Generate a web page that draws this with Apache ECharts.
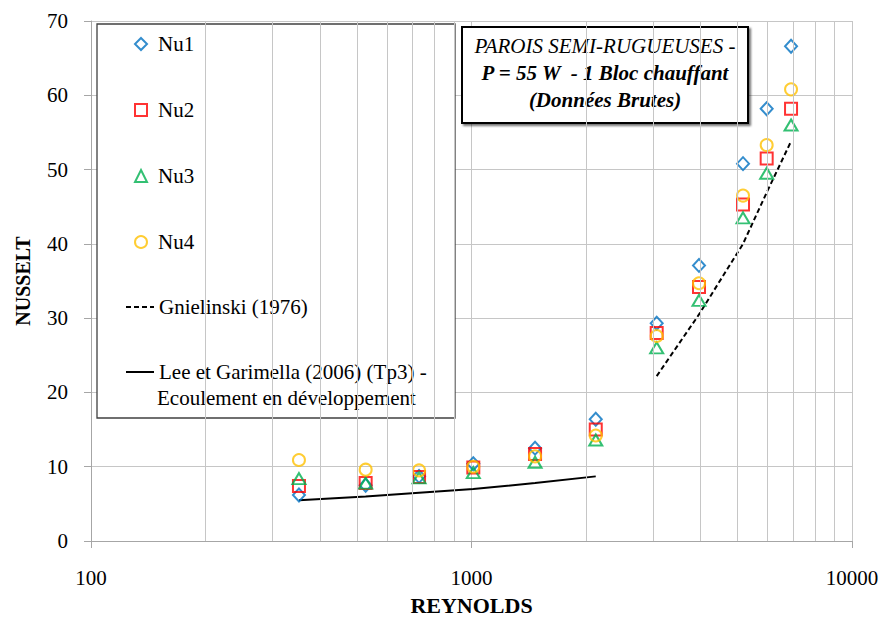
<!DOCTYPE html>
<html>
<head>
<meta charset="utf-8">
<script src="https://cdn.jsdelivr.net/npm/echarts@6/dist/echarts.min.js"></script>
<style>
  html, body { margin: 0; padding: 0; background: #fff; }
  #chart { width: 882px; height: 621px; }
</style>
</head>
<body>
<div id="chart"></div>
<script>
// Reynolds numbers of the measurement points
const reynolds = [352, 527, 728, 1011, 1469, 2121, 3067, 3962, 5171, 5967, 6915];

// Measured Nusselt numbers (raw data)
const nu1 = [6.2, 7.5, 8.7, 10.4, 12.5, 16.4, 29.3, 37.1, 50.8, 58.2, 66.6];
const nu2 = [7.4, 7.8, 8.6, 9.9, 11.7, 15.0, 28.0, 34.2, 45.3, 51.5, 58.2];
const nu3 = [8.4, 7.8, 8.5, 9.2, 10.6, 13.6, 26.0, 32.4, 43.5, 49.5, 56.0];
const nu4 = [10.9, 9.6, 9.5, 10.0, 11.4, 14.2, 27.6, 34.7, 46.5, 53.3, 60.8];

// Correlations
const gnielinskiRe = [3067, 3962, 5171, 5967, 6915];
const gnielinskiNu = [22.2, 30.5, 40.0, 46.9, 53.8];
const leeRe = [352, 527, 728, 1011, 1469, 2121];
const leeNu = [5.5, 6.0, 6.5, 7.0, 7.8, 8.7];

// Axis ranges and intermediate log grid lines
const xTicks = [100, 1000, 10000];
const yTicks = [0, 10, 20, 30, 40, 50, 60, 70];
const minorRe = [200, 300, 400, 500, 600, 700, 800, 900,
                 2000, 3000, 4000, 5000, 6000, 7000, 8000, 9000];

const GNIELINSKI = 'Gnielinski (1976)';
const LEE = 'Lee et Garimella (2006) (Tp3) -\nEcoulement en développement';

const FONT = "'Liberation Serif', 'Times New Roman', serif";
const GRID_COLOR = '#c6c6c6';
const AXIS_COLOR = '#a6a6a6';

const pair = (xs, ys) => xs.map((x, i) => [x, ys[i]]);
const hollow = (color) => ({ color: 'rgba(0,0,0,0)', borderColor: color, borderWidth: 2 });

const legendText = { fontFamily: FONT, fontSize: 21, color: '#000', lineHeight: 24 };

const chart = echarts.init(document.getElementById('chart'), null, { renderer: 'svg' });

chart.setOption({
  animation: false,
  backgroundColor: '#fff',
  textStyle: { fontFamily: FONT },
  grid: { left: 91, right: 30, top: 21, bottom: 76, containLabel: false },
  xAxis: {
    type: 'log',
    logBase: 10,
    min: xTicks[0],
    max: xTicks[xTicks.length - 1],
    name: 'REYNOLDS',
    nameLocation: 'middle',
    nameGap: 53,
    nameTextStyle: { fontFamily: FONT, fontSize: 22, fontWeight: 'bold', color: '#000' },
    axisLine: { show: true, lineStyle: { color: AXIS_COLOR, width: 1 } },
    axisTick: { show: true, inside: false, length: 7, lineStyle: { color: AXIS_COLOR } },
    axisLabel: {
      fontFamily: FONT, fontSize: 21, color: '#000', margin: 26,
      formatter: (v) => String(Math.round(v))
    },
    splitLine: { show: true, lineStyle: { color: GRID_COLOR, width: 1 } },
    minorTick: { show: false },
    minorSplitLine: { show: false }
  },
  yAxis: {
    type: 'value',
    min: yTicks[0],
    max: yTicks[yTicks.length - 1],
    interval: 10,
    name: 'NUSSELT',
    nameLocation: 'middle',
    nameGap: 58,
    nameRotate: 90,
    nameTextStyle: { fontFamily: FONT, fontSize: 20, fontWeight: 'bold', color: '#000' },
    axisLine: { show: true, lineStyle: { color: AXIS_COLOR, width: 1 } },
    axisTick: { show: true, inside: false, length: 7, lineStyle: { color: AXIS_COLOR } },
    axisLabel: { fontFamily: FONT, fontSize: 21, color: '#000', margin: 23 },
    splitLine: { show: true, lineStyle: { color: GRID_COLOR, width: 1 } }
  },
  legend: [
    {
      // measured series: square icon box so markers keep their shape
      orient: 'vertical',
      left: 134,
      top: 32,
      padding: 0,
      itemWidth: 12,
      itemHeight: 12,
      itemGap: 42,
      selectedMode: false,
      symbolKeepAspect: true,
      textStyle: Object.assign({ padding: [0, 0, 0, 6] }, legendText),
      data: ['Nu1', 'Nu2', 'Nu3', 'Nu4']
    },
    {
      // correlations: line icons, no marker
      orient: 'vertical',
      left: 125,
      top: 295,
      padding: 0,
      itemWidth: 28,
      itemHeight: 12,
      itemGap: 41,
      selectedMode: false,
      textStyle: legendText,
      formatter: (name) => name.split('\n')[0],
      data: [
        { name: GNIELINSKI, itemStyle: { opacity: 0 } },
        { name: LEE, itemStyle: { opacity: 0 } }
      ]
    }
  ],
  graphic: [
    // legend frame
    {
      type: 'rect', z: 3, silent: true,
      shape: { x: 97, y: 24, width: 358, height: 394 },
      style: { fill: '#fff', stroke: '#404040', lineWidth: 1.3 }
    },
    // second line of the Lee et Garimella legend entry
    {
      type: 'text', z: 5, silent: true,
      x: 157, y: 398,
      style: {
        text: LEE.split('\n')[1],
        font: "21px 'Liberation Serif', 'Times New Roman', serif",
        fill: '#000', verticalAlign: 'middle', align: 'left'
      }
    },
    // title box
    {
      type: 'rect', z: 3, silent: true,
      shape: { x: 462, y: 27, width: 286, height: 96 },
      style: {
        fill: '#fff', stroke: '#000', lineWidth: 2,
        shadowColor: 'rgba(0,0,0,0.55)', shadowBlur: 2, shadowOffsetX: 2, shadowOffsetY: 2
      }
    },
    {
      type: 'text', z: 5, silent: true, x: 605, y: 46,
      style: {
        text: 'PAROIS SEMI-RUGUEUSES -',
        font: "italic 21px 'Liberation Serif', 'Times New Roman', serif",
        fill: '#000', align: 'center', verticalAlign: 'middle'
      }
    },
    {
      type: 'text', z: 5, silent: true, x: 605, y: 73,
      style: {
        text: 'P = 55 W  - 1 Bloc chauffant',
        font: "italic bold 21px 'Liberation Serif', 'Times New Roman', serif",
        fill: '#000', align: 'center', verticalAlign: 'middle'
      }
    },
    {
      type: 'text', z: 5, silent: true, x: 605, y: 100,
      style: {
        text: '(Données Brutes)',
        font: "italic bold 21px 'Liberation Serif', 'Times New Roman', serif",
        fill: '#000', align: 'center', verticalAlign: 'middle'
      }
    }
  ],
  series: [
    {
      // intermediate vertical grid lines of the log axis
      name: 'grille',
      type: 'line',
      data: [],
      z: 1,
      silent: true,
      markLine: {
        silent: true,
        symbol: ['none', 'none'],
        label: { show: false },
        lineStyle: { color: GRID_COLOR, width: 1, type: 'solid' },
        emphasis: { disabled: true },
        data: minorRe.map((v) => ({ xAxis: v }))
      }
    },
    {
      name: GNIELINSKI,
      type: 'line',
      data: pair(gnielinskiRe, gnielinskiNu),
      symbol: 'none',
      lineStyle: { color: '#000', width: 2, type: [5, 3] },
      itemStyle: { color: 'rgba(0,0,0,0)' },
      z: 2
    },
    {
      name: LEE,
      type: 'line',
      data: pair(leeRe, leeNu),
      symbol: 'none',
      lineStyle: { color: '#000', width: 2, type: 'solid' },
      itemStyle: { color: 'rgba(0,0,0,0)' },
      z: 2
    },
    {
      name: 'Nu1', type: 'scatter', data: pair(reynolds, nu1),
      symbol: 'diamond', symbolSize: [12, 13], itemStyle: hollow('#0070C0'), z: 3
    },
    {
      name: 'Nu2', type: 'scatter', data: pair(reynolds, nu2),
      symbol: 'rect', symbolSize: 12, itemStyle: hollow('#FF0000'), z: 3
    },
    {
      name: 'Nu3', type: 'scatter', data: pair(reynolds, nu3),
      symbol: 'triangle', symbolSize: [13, 11], itemStyle: hollow('#00B050'), z: 3
    },
    {
      name: 'Nu4', type: 'scatter', data: pair(reynolds, nu4),
      symbol: 'circle', symbolSize: 12, itemStyle: hollow('#FFC000'), z: 3
    }
  ]
});
</script>
</body>
</html>
